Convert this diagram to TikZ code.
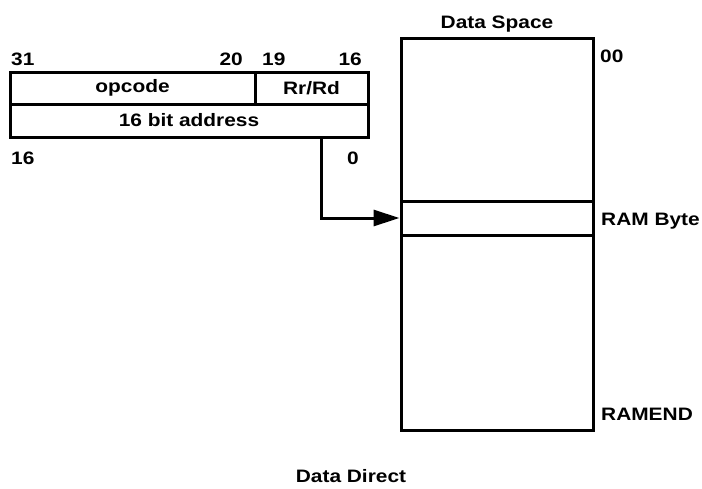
\documentclass[tikz,border=0pt]{standalone}
\usepackage{fontspec}
\setmainfont{Liberation Sans}[FakeStretch=1.16]
\usetikzlibrary{arrows.meta}
\begin{document}
\begin{tikzpicture}[x=1pt,y=-1pt,
  every node/.style={font=\fontsize{18}{21}\selectfont\bfseries},
  cell/.style={draw=black,line width=3pt,inner sep=0pt,minimum height=#1},
  lbl/.style={inner sep=0pt},
  conn/.style={line width=3pt,-{Triangle[length=26pt,width=16pt]}}]
\useasboundingbox[fill=white] (0,0) rectangle (702,488);
% instruction word
\node[cell=32pt,minimum width=245pt] (opcode) at (132.5,88) {opcode};
\node[cell=32pt,minimum width=113pt] (rrrd) at (311.5,88) {Rr/Rd};
\node[cell=33pt,minimum width=358pt] (addr) at (189,120.5) {16 bit address};
\node[lbl,anchor=base west] (b31) at (11,65) {31};
\node[lbl,anchor=base east] (b20) at (243,65) {20};
\node[lbl,anchor=base west] (b19) at (262,65) {19};
\node[lbl,anchor=base east] (b16) at (362,65) {16};
\node[lbl,anchor=base west] (a16) at (11,164) {16};
\node[lbl,anchor=base west] (a0) at (347,164) {0};
% data space
\node[cell=392pt,minimum width=192pt] (mem) at (497,234) {};
\node[cell=34pt,minimum width=192pt] (rambyte) at (497,218) {};
\node[lbl,anchor=base] (dstitle) at (497,28) {Data Space};
\node[lbl,anchor=base west] (l00) at (600,62) {00};
\node[lbl,anchor=base west] (lrb) at (601,225) {RAM Byte};
\node[lbl,anchor=base west] (lend) at (601,420) {RAMEND};
\node[lbl,anchor=base] (cap) at (351,482) {Data Direct};
% connector
\draw[conn] ([xshift=-48pt]addr.south east) |- (rambyte.west);
\end{tikzpicture}
\end{document}
